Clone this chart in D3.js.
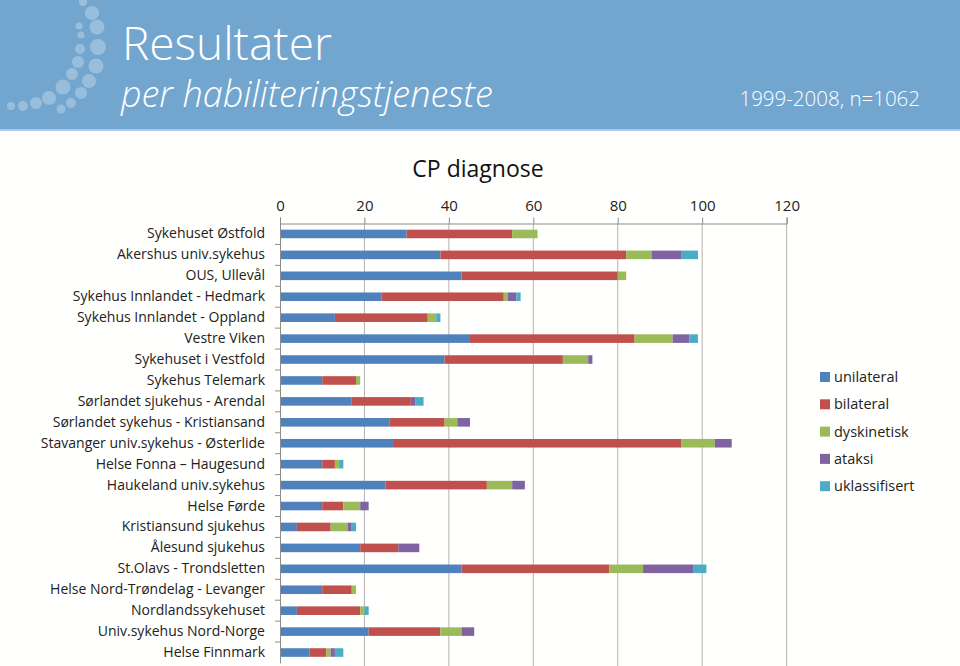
<!DOCTYPE html>
<html>
<head>
<meta charset="utf-8">
<script src="https://cdn.jsdelivr.net/npm/d3@7"></script>
<style>
  body { margin: 0; background: #fffffd; }
  svg { display: block; }
</style>
</head>
<body>
<svg id="chart" width="960" height="666"></svg>
<script>
// categories (top to bottom)
var sites = ['Sykehuset Østfold', 'Akershus univ.sykehus', 'OUS, Ullevål',
  'Sykehus Innlandet - Hedmark', 'Sykehus Innlandet - Oppland', 'Vestre Viken',
  'Sykehuset i Vestfold', 'Sykehus Telemark', 'Sørlandet sjukehus - Arendal',
  'Sørlandet sykehus - Kristiansand', 'Stavanger univ.sykehus - Østerlide',
  'Helse Fonna \u2013 Haugesund', 'Haukeland univ.sykehus', 'Helse Førde',
  'Kristiansund sjukehus', 'Ålesund sjukehus', 'St.Olavs - Trondsletten',
  'Helse Nord-Trøndelag - Levanger', 'Nordlandssykehuset',
  'Univ.sykehus Nord-Norge', 'Helse Finnmark']

var series = ['unilateral', 'bilateral', 'dyskinetisk', 'ataksi', 'uklassifisert']

var unilateral    = [30, 38, 43, 24, 13, 45, 39, 10, 17, 26, 27, 10, 25, 10, 4, 19, 43, 10, 4, 21, 7]
var bilateral     = [25, 44, 37, 29, 22, 39, 28,  8, 14, 13, 68,  3, 24,  5, 8,  9, 35,  7, 15, 17, 4]
var dyskinetisk   = [ 6,  6,  2,  1,  2,  9,  6,  1,  0,  3,  8,  1,  6,  4, 4,  0,  8,  1, 1,  5, 1]
var ataksi        = [ 0,  7,  0,  2,  0,  4,  1,  0,  1,  3,  4,  0,  3,  2, 1,  5, 12,  0, 0,  3, 1]
var uklassifisert = [ 0,  4,  0,  1,  1,  2,  0,  0,  2,  0,  0,  1,  0,  0, 1,  0,  3,  0, 1,  0, 2]

var xTicks = [0, 20, 40, 60, 80, 100, 120]
var colors = ['#4f81bd', '#c0504d', '#9bbb59', '#8064a2', '#4bacc6']

// logo dots in the banner [cx, cy, r]
var dots = [[83,2,4],[92,13,7],[79,26,3.5],[97,27,7.5],[81,35,3.5],[98,47,8],[80,49,5],
  [96,66,7.5],[78,62,6],[72,74,6],[89,81,7],[63,87,7.5],[81,93,6],[49,98,7],[71,103,5],
  [36,103,6],[61,109,4.5],[23,106,5],[11,106,4]]

var rows = sites.map(function(s, i) {
  return {site: s, unilateral: unilateral[i], bilateral: bilateral[i],
    dyskinetisk: dyskinetisk[i], ataksi: ataksi[i], uklassifisert: uklassifisert[i]}
})

var svg = d3.select('#chart')
var font = "'Open Sans', 'Noto Sans', sans-serif"

// banner
svg.append('rect').attr('x', 0).attr('y', 0).attr('width', 960).attr('height', 130)
  .attr('fill', '#72a6cf')
svg.append('rect').attr('x', 0).attr('y', 129).attr('width', 960).attr('height', 2)
  .attr('fill', '#a9cbe6')
svg.append('g').selectAll('circle').data(dots).enter().append('circle')
  .attr('cx', function(d) { return d[0] }).attr('cy', function(d) { return d[1] })
  .attr('r', function(d) { return d[2] })
  .attr('fill', '#ffffff').attr('fill-opacity', 0.28)

svg.append('text').attr('x', 122).attr('y', 60).text('Resultater')
  .attr('fill', '#fff').style('font-family', font).style('font-size', '46px')
  .style('font-weight', 300)
svg.append('text').attr('x', 121).attr('y', 107).text('per habiliteringstjeneste')
  .attr('fill', '#fff').style('font-family', font).style('font-size', '36px')
  .style('font-style', 'italic').style('font-weight', 300)
svg.append('text').attr('x', 920).attr('y', 106).attr('text-anchor', 'end')
  .text('1999-2008, n=1062')
  .attr('fill', '#fff').style('font-family', font).style('font-size', '20.5px')
  .style('font-weight', 300)

// chart
var x = d3.scaleLinear().domain([0, 120]).range([280, 786.6])
var y = d3.scaleBand().domain(sites).range([223.5, 663]).paddingInner(0.59).paddingOuter(0.295)

svg.append('text').attr('x', 478).attr('y', 177).attr('text-anchor', 'middle')
  .text('CP diagnose').attr('fill', '#111')
  .style('font-family', font).style('font-size', '23px')

// gridlines
svg.append('g').selectAll('line').data(xTicks.slice(1)).enter().append('line')
  .attr('x1', function(d) { return x(d) }).attr('x2', function(d) { return x(d) })
  .attr('y1', 223.5).attr('y2', 666)
  .attr('stroke', '#b3b3b3').attr('stroke-width', 1)

var xAxis = svg.append('g').attr('transform', 'translate(0,223.5)')
  .call(d3.axisTop(x).tickValues(xTicks).tickSize(6).tickPadding(7))
xAxis.select('.domain').attr('stroke', '#8c8c8c')
xAxis.selectAll('.tick line').attr('stroke', '#8c8c8c')
xAxis.selectAll('text').attr('fill', '#222').style('font-family', font).style('font-size', '15px')

var stack = d3.stack().keys(series)
var layers = stack(rows)

svg.append('g').selectAll('g').data(layers).enter().append('g')
  .attr('fill', function(d, i) { return colors[i] })
  .selectAll('rect').data(function(d) { return d }).enter().append('rect')
  .attr('x', function(d) { return x(d[0]) })
  .attr('width', function(d) { return x(d[1]) - x(d[0]) })
  .attr('y', function(d) { return y(d.data.site) })
  .attr('height', y.bandwidth())

// left axis
var yAxis = svg.append('g').attr('transform', 'translate(280,0)')
  .call(d3.axisLeft(y).tickSize(0).tickPadding(15))
yAxis.select('.domain').attr('stroke', '#8c8c8c')
yAxis.selectAll('text').attr('fill', '#222').style('font-family', font).style('font-size', '14px')
yAxis.append('g').selectAll('line').data(sites.slice(1)).enter().append('line')
  .attr('x1', -5).attr('x2', 0)
  .attr('y1', function(d) { return y(d) - y.step() * y.paddingInner() / 2 })
  .attr('y2', function(d) { return y(d) - y.step() * y.paddingInner() / 2 })
  .attr('stroke', '#8c8c8c')

// legend
var legend = svg.append('g').selectAll('g').data(series).enter().append('g')
  .attr('transform', function(d, i) { return 'translate(820,' + (372 + i * 27.3) + ')' })
legend.append('rect').attr('width', 10).attr('height', 10)
  .attr('fill', function(d, i) { return colors[i] })
legend.append('text').attr('x', 14).attr('y', 10).text(function(d) { return d })
  .attr('fill', '#222').style('font-family', font).style('font-size', '14.5px')
</script>
</body>
</html>
